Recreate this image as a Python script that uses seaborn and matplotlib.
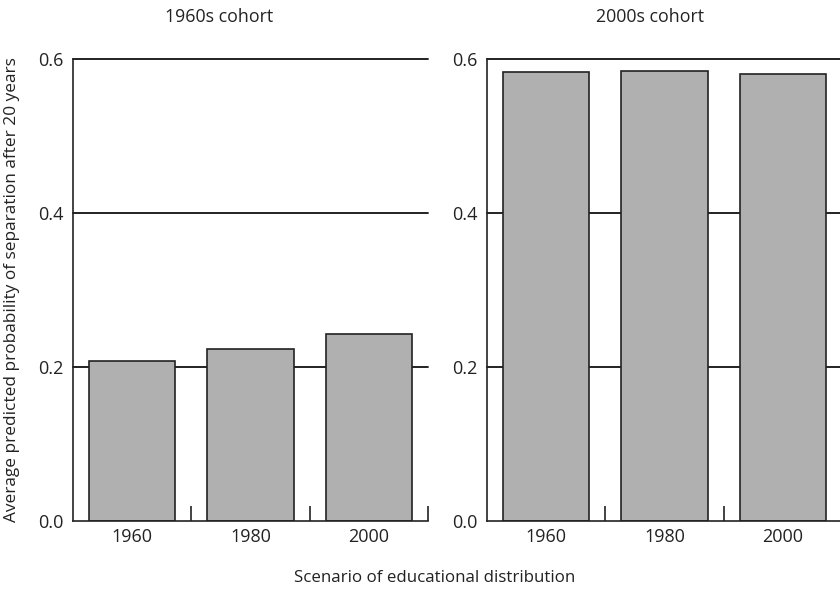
import matplotlib
matplotlib.use("Agg")
import matplotlib.pyplot as plt
import seaborn as sns
import pandas as pd
from matplotlib.ticker import FixedLocator

scenarios = ["1960", "1980", "2000"]
cohorts = ["1960s cohort", "2000s cohort"]
values_1960s = [0.208, 0.223, 0.243]
values_2000s = [0.583, 0.585, 0.581]
yticks = [0.0, 0.2, 0.4, 0.6]
ytick_labels = ["0.0", "0.2", "0.4", "0.6"]

sns.set_theme(style="white")
plt.rcParams["font.family"] = ["Open Sans", "DejaVu Sans"]
plt.rcParams["text.color"] = "#222222"

df = pd.DataFrame({
    "cohort": [cohorts[0]] * 3 + [cohorts[1]] * 3,
    "scenario": scenarios * 2,
    "value": values_1960s + values_2000s,
})

W, H = 840, 592
fig = plt.figure(figsize=(W / 100, H / 100), dpi=100)
ax_positions = [
    [73 / W, (H - 521) / H, 355 / W, 462 / H],
    [487 / W, (H - 521) / H, 355 / W, 462 / H],
]
title_x = [219 / W, 650 / W]

for i, cohort in enumerate(cohorts):
    ax = fig.add_axes(ax_positions[i])
    sub = df[df["cohort"] == cohort]
    for yv in yticks[1:]:
        ax.axhline(yv, color="#111111", lw=1.3, zorder=0, clip_on=False)
    sns.barplot(data=sub, x="scenario", y="value", order=scenarios, ax=ax,
                color="#b0b0b0", edgecolor="#222222", linewidth=1.2,
                width=0.73, saturation=1, errorbar=None, zorder=2)
    ax.set_xlim(-0.5, 2.5)
    ax.set_ylim(0, 0.6)
    ax.set_yticks(yticks)
    ax.set_yticklabels(ytick_labels)
    ax.tick_params(axis="y", length=0, pad=7, labelsize=13, labelcolor="#222222")
    ax.tick_params(axis="x", which="major", length=0, pad=5, labelsize=13,
                   labelcolor="#222222")
    ax.xaxis.set_minor_locator(FixedLocator([0.5, 1.5, 2.5]))
    ax.tick_params(axis="x", which="minor", direction="in", length=11,
                   width=1.2, color="#222222", bottom=True)
    for s in ["top", "right"]:
        ax.spines[s].set_visible(False)
    for s in ["left", "bottom"]:
        ax.spines[s].set_color("#222222")
        ax.spines[s].set_linewidth(1.2)
    ax.set_xlabel("")
    ax.set_ylabel("")
    fig.text(title_x[i], 1 - 17 / H, cohort, ha="center", va="center",
             fontsize=12.8, color="#222222")

fig.text(12 / W, 1 - 290 / H,
         "Average predicted probability of separation after 20 years",
         rotation=90, ha="center", va="center", fontsize=12.4, color="#222222")
fig.text(435 / W, 1 - 578 / H, "Scenario of educational distribution",
         ha="center", va="center", fontsize=12.2, color="#222222")

fig.savefig("out.png", dpi=100)
